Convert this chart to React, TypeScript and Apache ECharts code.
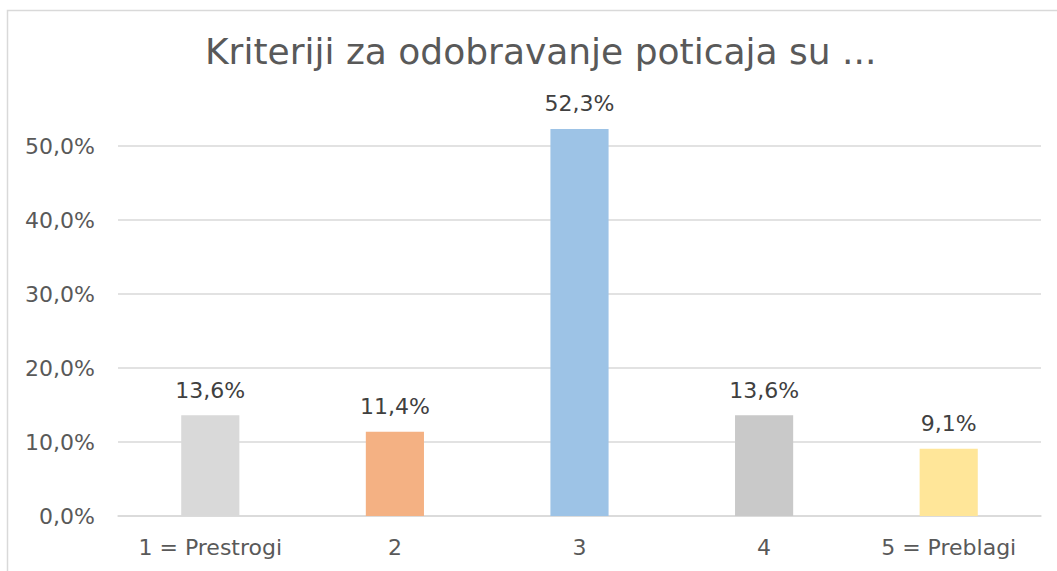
import React, { useEffect, useRef } from "react";
import * as echarts from "echarts";

const categories = ["1 = Prestrogi", "2", "3", "4", "5 = Preblagi"];
const values = [13.6, 11.4, 52.3, 13.6, 9.1];
const barColors = ["#D9D9D9", "#F4B183", "#9DC3E6", "#C9C9C9", "#FFE699"];
const titleText = "Kriteriji za odobravanje poticaja su ...";

const fmt = (v: number) => v.toFixed(1).replace(".", ",") + "%";
const FONT = "'DejaVu Sans', sans-serif";

export default function App() {
  const ref = useRef<HTMLDivElement>(null);
  useEffect(() => {
    if (!ref.current) return;
    const chart = echarts.init(ref.current, null, { renderer: "svg" });
    chart.setOption({
      animation: false,
      backgroundColor: "#FFFFFF",
      title: {
        text: titleText,
        left: 200,
        top: 28,
        textStyle: { fontFamily: FONT, fontSize: 36, fontWeight: "normal", color: "#595959" },
      },
      graphic: [
        {
          type: "rect",
          shape: { x: 7.5, y: 10.5, width: 1200, height: 700 },
          style: { fill: "none", stroke: "#D9D9D9", lineWidth: 1.5 },
          silent: true,
        },
      ],
      grid: { left: 118, right: 16, top: 146, bottom: 55 },
      xAxis: {
        type: "category",
        data: categories,
        axisLine: { show: true, lineStyle: { color: "#D9D9D9", width: 1.5 } },
        axisTick: { show: false },
        axisLabel: { fontFamily: FONT, fontSize: 22, color: "#595959", margin: 20, interval: 0 },
      },
      yAxis: {
        type: "value",
        min: 0,
        max: 50,
        interval: 10,
        axisLine: { show: false },
        axisTick: { show: false },
        splitLine: { lineStyle: { color: "#D9D9D9", width: 1.5 } },
        axisLabel: { fontFamily: FONT, fontSize: 22, color: "#595959", margin: 23, formatter: (v: number) => fmt(v) },
      },
      series: [
        {
          type: "bar",
          clip: false,
          barWidth: "31.5%",
          data: values.map((v, i) => ({ value: v, itemStyle: { color: barColors[i] } })),
          label: {
            show: true,
            position: "top",
            distance: 14,
            fontFamily: FONT,
            fontSize: 22,
            color: "#404040",
            formatter: (p: any) => fmt(p.value),
          },
        },
      ],
    });
    return () => chart.dispose();
  }, []);
  return (
    <div
      ref={ref}
      style={{ position: "fixed", left: 0, top: 0, width: 1057, height: 571 }}
    />
  );
}
